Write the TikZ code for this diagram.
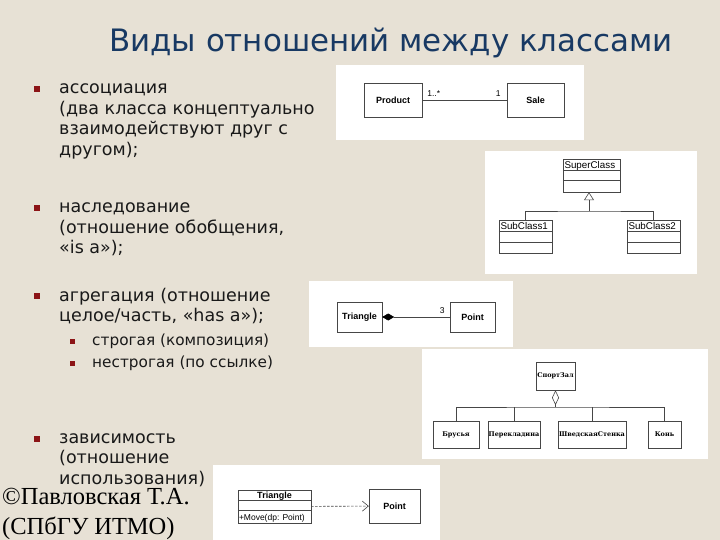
\documentclass[tikz,border=0pt]{standalone}
\usepackage{fontspec}
\setmainfont{DejaVu Sans}
\newfontfamily\podval{Liberation Serif}
\newfontfamily\umlshrift{Liberation Sans}
\newfontfamily\zalshrift{DejaVu Serif}
\usetikzlibrary{arrows.meta,calc}
\definecolor{fon}{RGB}{231,225,213}
\definecolor{zagcvet}{RGB}{24,57,99}
\definecolor{markcvet}{RGB}{140,20,22}
\definecolor{ramka}{RGB}{70,70,70}
\definecolor{tekst}{RGB}{25,25,25}
\tikzset{
  panel/.style={fill=white,draw=none},
  punkt/.style={anchor=base west,align=left,inner sep=0pt,text=tekst,
    font=\fontsize{17.5}{20.5}\selectfont},
  podpunkt/.style={anchor=base west,inner sep=0pt,text=tekst,
    font=\fontsize{15.3}{18}\selectfont},
  marker/.style={fill=markcvet,inner sep=0pt,minimum size=6pt},
  podmarker/.style={fill=markcvet,inner sep=0pt,minimum size=5pt},
  klass/.style={draw=ramka,fill=white,inner sep=0pt,
    font=\umlshrift\bfseries\fontsize{9}{10}\selectfont},
  zalklass/.style={draw=ramka,fill=white,inner sep=0pt,
    font=\zalshrift\bfseries\fontsize{6.5}{7}\selectfont},
  metka/.style={inner sep=0pt,font=\umlshrift\fontsize{8.5}{9}\selectfont},
  imya/.style={anchor=base west,inner sep=0pt,font=\umlshrift\fontsize{9.8}{10}\selectfont},
  svyaz/.style={draw=ramka,line width=0.6pt},
}
\begin{document}
\begin{tikzpicture}[x=1pt,y=-1pt]
% фон и рамка кадра
\fill[fon] (0,0) rectangle (720,540);
\useasboundingbox (0,0) rectangle (720,540);
% заголовок
\node[text=zagcvet,font=\fontsize{30.9}{32}\selectfont,inner sep=0pt,anchor=base] (zag) at (391,52) {Виды отношений между классами};
% список (якорь -- последняя строка)
\node[marker] (m1) at (37,89) {};
\node[punkt] (t1) at (59,155.5) {ассоциация\\(два класса концептуально\\взаимодействуют друг с\\другом);};
\node[marker] (m2) at (37,208) {};
\node[punkt] (t2) at (59,254) {наследование\\(отношение обобщения,\\«is a»);};
\node[marker] (m3) at (37,296) {};
\node[punkt] (t3) at (59,321.5) {агрегация (отношение\\целое/часть, «has a»);};
\node[podmarker] (m31) at (72,341) {};
\node[podpunkt] (t31) at (92,345) {строгая (композиция)};
\node[podmarker] (m32) at (72,363) {};
\node[podpunkt] (t32) at (92,367) {нестрогая (по ссылке)};
\node[marker] (m4) at (37,439) {};
\node[punkt] (t4) at (59,484) {зависимость\\(отношение\\использования)};
% ассоциация
\fill[panel] (336,65) rectangle (584,140);
\node[klass,minimum width=58,minimum height=34] (product) at (393,100) {Product};
\node[klass,minimum width=57,minimum height=34] (sale) at (535.5,100) {Sale};
\draw[svyaz] (product) -- (sale);
\node[metka,anchor=south west] (k1) at ($(product.east)+(5,-3)$) {1..*};
\node[metka,anchor=south east] (k2) at ($(sale.west)+(-6,-3)$) {1};
% наследование
\fill[panel] (485,151) rectangle (697,274);
\node[klass,minimum width=57,minimum height=33] (super) at (591.5,175.5) {};
\node[imya] at ($(super.north west)+(1.5,10)$) {SuperClass};
\draw[svyaz] ($(super.north west)+(0,12)$) -- ($(super.north east)+(0,12)$);
\draw[svyaz] ($(super.north west)+(0,22)$) -- ($(super.north east)+(0,22)$);
\node[klass,minimum width=53,minimum height=33] (sub1) at (525.5,236.5) {};
\node[imya] at ($(sub1.north west)+(1.5,10)$) {SubClass1};
\draw[svyaz] ($(sub1.north west)+(0,12)$) -- ($(sub1.north east)+(0,12)$);
\draw[svyaz] ($(sub1.north west)+(0,22)$) -- ($(sub1.north east)+(0,22)$);
\node[klass,minimum width=53,minimum height=33] (sub2) at (653.5,236.5) {};
\node[imya] at ($(sub2.north west)+(1.5,10)$) {SubClass2};
\draw[svyaz] ($(sub2.north west)+(0,12)$) -- ($(sub2.north east)+(0,12)$);
\draw[svyaz] ($(sub2.north west)+(0,22)$) -- ($(sub2.north east)+(0,22)$);
\coordinate (razv) at (589,211);
\draw[svyaz] (sub1.north) |- (razv) -| (sub2.north);
\draw[svyaz,-{Triangle[open,length=8pt,width=10pt]}] (razv) -- (razv |- super.south);
% композиция
\fill[panel] (309,281) rectangle (513,347);
\node[klass,minimum width=45,minimum height=30] (tri) at (359.5,317) {Triangle};
\node[klass,minimum width=45,minimum height=30] (tochka) at (472.5,317) {Point};
\draw[svyaz,{Diamond[length=12pt,width=7pt,color=black]}-] (tri) -- (tochka);
\node[metka,anchor=south east] (k3) at ($(tochka.west)+(-5,-3)$) {3};
% агрегация
\fill[panel] (422,349) rectangle (708,459);
\node[zalklass,minimum width=39,minimum height=28] (zal) at (555.5,376) {СпортЗал};
\node[zalklass,minimum width=46,minimum height=27] (brus) at (456,434.5) {Брусья};
\node[zalklass,minimum width=52,minimum height=27] (perek) at (514,434.5) {Перекладина};
\node[zalklass,minimum width=68,minimum height=27] (shved) at (592,434.5) {ШведскаяСтенка};
\node[zalklass,minimum width=33,minimum height=27] (kon) at (664.5,434.5) {Конь};
\coordinate (razv2) at (555.5,407);
\draw[svyaz] (brus.north) |- (razv2) -| (kon.north);
\draw[svyaz] (perek.north) -- (perek.north |- razv2);
\draw[svyaz] (shved.north) -- (shved.north |- razv2);
\draw[svyaz,{Diamond[open,length=15pt,width=7pt]}-] (zal.south) -- (razv2);
% зависимость
\fill[panel] (213,465) rectangle (440,540);
\node[klass,minimum width=73,minimum height=33] (tri2) at (274.5,506.5) {};
\node[klass,anchor=north,draw=none,fill=none] at ($(tri2.north)+(0,1.5)$) {Triangle};
\draw[svyaz] ($(tri2.north west)+(0,10)$) -- ($(tri2.north east)+(0,10)$);
\draw[svyaz] ($(tri2.north west)+(0,20)$) -- ($(tri2.north east)+(0,20)$);
\node[metka,anchor=south west] at ($(tri2.south west)+(1,-1)$) {+Move(dp: Point)};
\node[klass,minimum width=51,minimum height=34] (tochka2) at (394.5,506) {Point};
\draw[svyaz,dash pattern=on 2.5pt off 1.5pt,-{Straight Barb[length=6pt,width=10pt]}] (tri2) -- (tochka2);
% подпись
\node[anchor=base west,inner sep=0pt,align=left,font=\podval\fontsize{24.5}{30}\selectfont] (avtor) at (2,534) {©Павловская Т.А.\\(СПбГУ ИТМО)};
\end{tikzpicture}
\end{document}
